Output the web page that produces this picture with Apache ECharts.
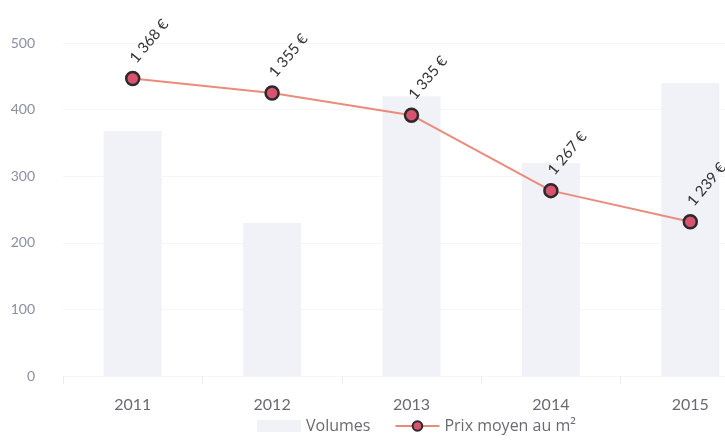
<!DOCTYPE html>
<html>
<head>
<meta charset="utf-8">
<script src="https://cdn.jsdelivr.net/npm/echarts@6/dist/echarts.min.js"></script>
<style>html,body{margin:0;padding:0;background:#fff;overflow:hidden;width:725px;height:440px;}#c{width:760px;height:440px;}</style>
</head>
<body>
<div id="c"></div>
<script>
var years = ['2011', '2012', '2013', '2014', '2015'];
var volumes = [368, 230, 420, 320, 440];
var prices = [1368, 1355, 1335, 1267, 1239];
var yTicks = [0, 100, 200, 300, 400, 500];

var chart = echarts.init(document.getElementById('c'), null, {renderer: 'canvas'});
var font = 'Lato, "Open Sans", sans-serif';
var legendFont = '"Open Sans", Lato, sans-serif';
chart.setOption({
  animation: false,
  backgroundColor: '#ffffff',
  textStyle: {fontFamily: font},
  grid: {left: 63, right: 0, top: 43, bottom: 64, containLabel: false},
  legend: {
    left: 252, bottom: 1, itemGap: 24, itemWidth: 44, itemHeight: 12,
    textStyle: {color: '#6a6a72', fontSize: 16, fontFamily: legendFont},
    data: [
      {name: 'Volumes', icon: 'rect'},
      {name: 'Prix moyen au m²'}
    ]
  },
  xAxis: {
    type: 'category', data: years,
    axisLine: {show: false},
    axisTick: {show: true, length: 8, lineStyle: {color: '#ececf0'}},
    axisLabel: {color: '#6a6a72', fontSize: 16, margin: 21, fontFamily: font}
  },
  yAxis: [{
    type: 'value', min: 0, max: 500, interval: 100,
    axisLine: {show: false}, axisTick: {show: false},
    axisLabel: {color: '#8a8fa3', fontSize: 14, margin: 28, fontFamily: font,
      formatter: function (v) { return yTicks.indexOf(v) >= 0 ? String(v) : ''; }},
    splitLine: {show: true, lineStyle: {color: '#f6f6f8'}}
  }, {
    type: 'value', min: 1100, max: 1400, show: false, splitLine: {show: false}
  }],
  series: [{
    name: 'Volumes', type: 'bar', data: volumes, barWidth: 58,
    itemStyle: {color: '#f1f2f8'}
  }, {
    name: 'Prix moyen au m²', type: 'line', yAxisIndex: 1, data: prices,
    symbol: 'circle', symbolSize: 13,
    lineStyle: {color: '#ea8c7c', width: 2},
    itemStyle: {color: '#d9536f', borderColor: '#2a2a2a', borderWidth: 2.5},
    label: {
      show: true, position: 'top', distance: 10, rotate: 50,
      align: 'left', verticalAlign: 'middle',
      color: '#333333', fontSize: 15, fontFamily: font,
      formatter: function (p) {
        var s = String(p.value);
        return s.slice(0, s.length - 3) + ' ' + s.slice(-3) + ' €';
      }
    }
  }]
});
</script>
</body>
</html>
